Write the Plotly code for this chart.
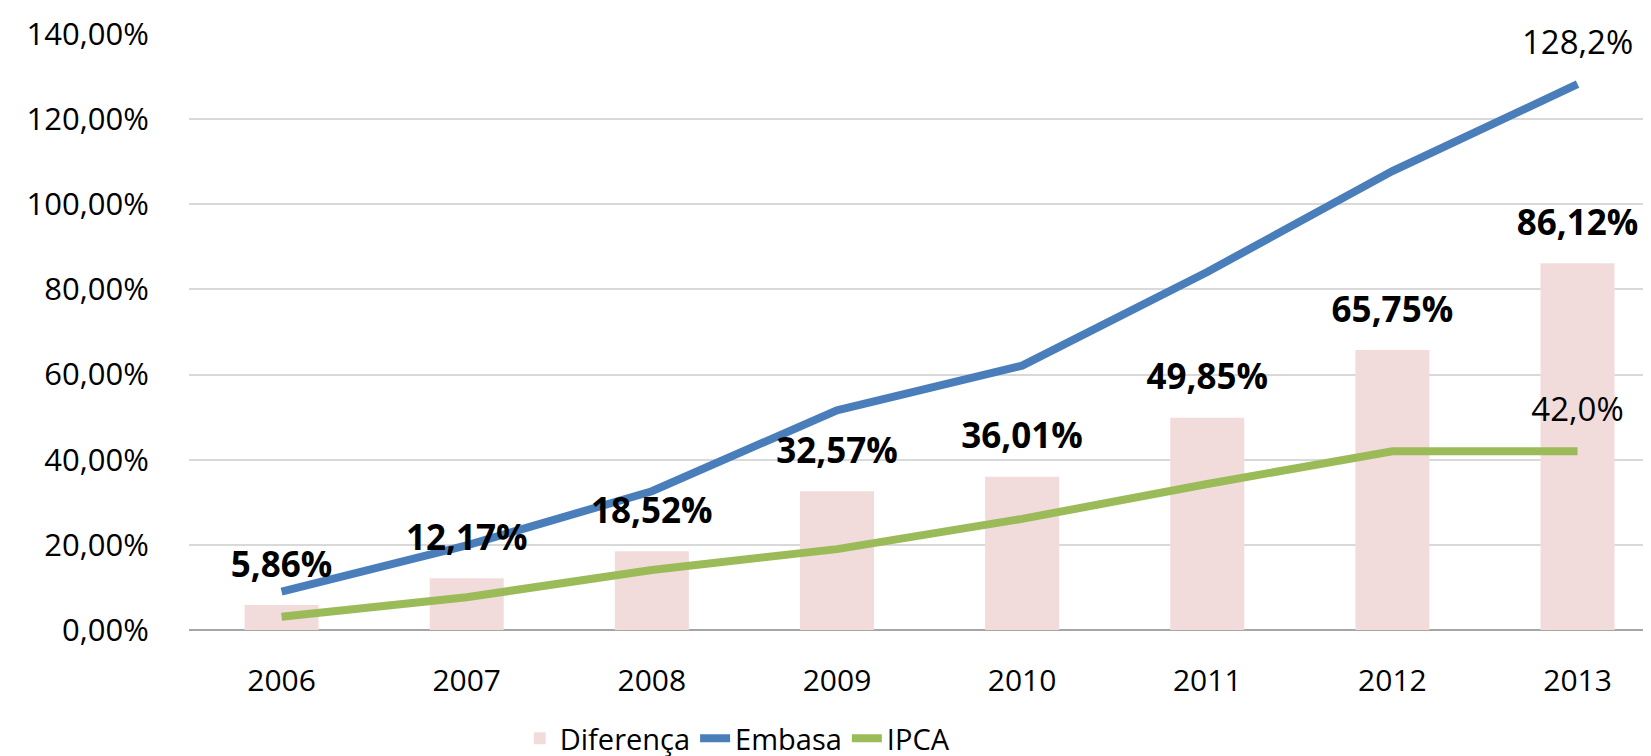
import plotly.graph_objects as go

years = ["2006", "2007", "2008", "2009", "2010", "2011", "2012", "2013"]
diferenca = [5.86, 12.17, 18.52, 32.57, 36.01, 49.85, 65.75, 86.12]
embasa = [9.0, 19.9, 32.6, 51.6, 62.1, 84.1, 107.8, 128.2]
ipca = [3.1, 7.7, 14.1, 19.0, 26.1, 34.3, 42.0, 42.0]
y_ticks = [0, 20, 40, 60, 80, 100, 120, 140]
y_tick_labels = ["0,00%", "20,00%", "40,00%", "60,00%", "80,00%", "100,00%", "120,00%", "140,00%"]
diferenca_labels = ["5,86%", "12,17%", "18,52%", "32,57%", "36,01%", "49,85%", "65,75%", "86,12%"]
embasa_end_label = "128,2%"
ipca_end_label = "42,0%"

FONT = "Open Sans"
BAR_COLOR = "#f2dcdb"
BLUE = "#4a7ebb"
GREEN = "#9bbb59"
CLEAR = "rgba(0,0,0,0)"

fig = go.Figure()
fig.add_trace(go.Bar(x=years, y=diferenca, name="Diferença", marker_color=BAR_COLOR,
                     marker_line_width=0))
fig.add_trace(go.Scatter(x=years, y=embasa, name="Embasa", mode="lines",
                         line=dict(color=BLUE, width=8)))
fig.add_trace(go.Scatter(x=years, y=ipca, name="IPCA", mode="lines",
                         line=dict(color=GREEN, width=8)))
# data labels (invisible markers only push the text away from the point)
fig.add_trace(go.Scatter(x=years, y=diferenca, mode="markers+text", showlegend=False,
                         marker=dict(size=30, color=CLEAR), cliponaxis=False,
                         text=["<b>" + t + "</b>" for t in diferenca_labels],
                         textposition="top center",
                         textfont=dict(family=FONT, size=35, color="black"), hoverinfo="skip"))
fig.add_trace(go.Scatter(x=[years[-1], years[-1]], y=[embasa[-1], ipca[-1]], mode="markers+text",
                         showlegend=False, marker=dict(size=34, color=CLEAR), cliponaxis=False,
                         text=[embasa_end_label, ipca_end_label],
                         textposition="top center",
                         textfont=dict(family=FONT, size=33, color="black"), hoverinfo="skip"))

fig.update_layout(
    width=1651, height=756,
    margin=dict(l=181, r=0, t=26, b=128),
    paper_bgcolor="white", plot_bgcolor="white",
    font=dict(family=FONT, size=31, color="black"),
    bargap=0.6,
    showlegend=True,
    legend=dict(orientation="h", x=0.225, xanchor="left", y=-0.183, yanchor="middle",
                font=dict(family=FONT, size=29, color="black")),
)
fig.update_xaxes(type="category", range=[-0.5, 7.44], showgrid=False, showline=False,
                 zeroline=False, ticks="outside", ticklen=24, tickcolor="white",
                 tickfont=dict(family=FONT, size=30, color="black"))
fig.update_yaxes(range=[0, 140], tickmode="array", tickvals=y_ticks, ticktext=y_tick_labels,
                 showgrid=True, gridcolor="#d9d9d9", gridwidth=1.5,
                 zeroline=True, zerolinecolor="#a6a6a6", zerolinewidth=2,
                 showline=False, ticks="outside", ticklen=33, tickcolor="white",
                 tickfont=dict(family=FONT, size=31, color="black"))

fig.write_html("out.html")
